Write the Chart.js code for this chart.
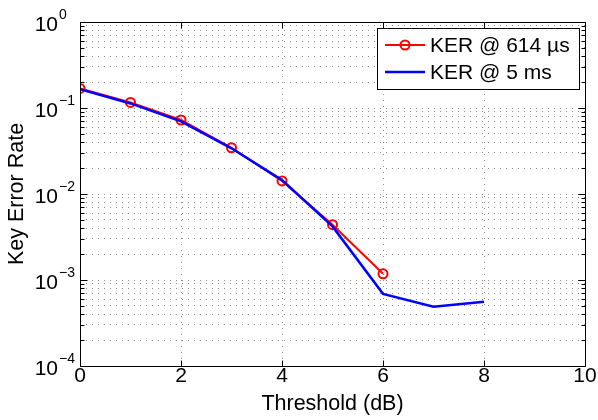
<!DOCTYPE html>
<html>
<head>
<meta charset="utf-8">
<script src="https://cdn.jsdelivr.net/npm/chart.js@4/dist/chart.umd.min.js"></script>
<style>
  body { margin: 0; background: #fff; }
</style>
</head>
<body>
<canvas id="myChart" width="598" height="420"></canvas>
<script>
// values
const thresholds = [0, 1, 2, 3, 4, 5, 6, 7, 8];
const ker614us = [0.169, 0.116, 0.0725, 0.0345, 0.0142, 0.0044, 0.00118];
const ker5ms = [0.165, 0.113, 0.070, 0.034, 0.0145, 0.0042, 0.00069, 0.00049, 0.00056];
const xTicks = [0, 2, 4, 6, 8, 10];
const yDecades = [1e-4, 1e-3, 1e-2, 1e-1, 1];
const yExponents = ['−4', '−3', '−2', '−1', '0'];
const seriesLabels = ['KER @ 614 µs', 'KER @ 5 ms'];

const FONT = "'Liberation Sans', Arial, Helvetica, sans-serif";
Chart.defaults.font.family = FONT;
Chart.defaults.color = '#000';

// all grid positions of the log axis (1..9 in each decade)
const yGrid = [];
yDecades.forEach((d, i) => {
  if (i === yDecades.length - 1) { yGrid.push(d); return; }
  for (let k = 1; k < 10; k++) yGrid.push(d * k);
});

const toPoints = (ys) => ys.map((y, i) => ({ x: thresholds[i], y: y }));

const matlabBox = {
  id: 'matlabBox',
  afterDraw(chart) {
    const ctx = chart.ctx;
    const a = chart.chartArea;
    const xs = chart.scales.x, ys = chart.scales.y;
    ctx.save();
    ctx.strokeStyle = '#000';
    ctx.lineWidth = 1;
    const L = Math.round(a.left) + 0.5, R = Math.round(a.right) + 0.5;
    const T = Math.round(a.top) + 0.5, B = Math.round(a.bottom) + 0.5;

    // inside ticks
    ctx.beginPath();
    xTicks.forEach(v => {
      const px = Math.round(xs.getPixelForValue(v)) + 0.5;
      ctx.moveTo(px, B); ctx.lineTo(px, B - 6);
      ctx.moveTo(px, T); ctx.lineTo(px, T + 6);
    });
    yGrid.forEach(v => {
      const py = Math.round(ys.getPixelForValue(v)) + 0.5;
      const len = yDecades.includes(v) ? 7 : 4;
      ctx.moveTo(L, py); ctx.lineTo(L + len, py);
      ctx.moveTo(R, py); ctx.lineTo(R - len, py);
    });
    ctx.stroke();
    ctx.strokeRect(L, T, R - L, B - T);

    // y tick labels: 10 with superscript exponent
    ctx.fillStyle = '#000';
    yDecades.forEach((d, i) => {
      const py = ys.getPixelForValue(d);
      ctx.font = '21px ' + FONT;
      ctx.textAlign = 'right';
      ctx.textBaseline = 'middle';
      ctx.fillText('10', 58, py + 3);
      ctx.font = '14px ' + FONT;
      ctx.textAlign = 'left';
      ctx.fillText(yExponents[i], 59, py - 7);
    });

    // legend box
    const lx = 377, ly = 28, lw = 202, lh = 61;
    ctx.fillStyle = '#fff';
    ctx.fillRect(lx, ly, lw, lh);
    ctx.strokeRect(lx + 0.5, ly + 0.5, lw, lh);
    const rows = [45, 72];
    chart.data.datasets.forEach((ds, i) => {
      const y = rows[i];
      ctx.strokeStyle = ds.borderColor;
      ctx.lineWidth = ds.borderWidth;
      ctx.beginPath();
      ctx.moveTo(385, y); ctx.lineTo(425, y);
      ctx.stroke();
      if (ds.pointRadius > 0) {
        ctx.lineWidth = ds.pointBorderWidth;
        ctx.beginPath();
        ctx.arc(405, y, ds.pointRadius, 0, Math.PI * 2);
        ctx.stroke();
      }
      ctx.fillStyle = '#000';
      ctx.font = '21px ' + FONT;
      ctx.textAlign = 'left';
      ctx.textBaseline = 'middle';
      ctx.fillText(ds.label, 430, y + 1);
    });
    ctx.restore();
  }
};

new Chart(document.getElementById('myChart'), {
  type: 'line',
  data: {
    datasets: [{
      label: seriesLabels[0],
      data: toPoints(ker614us),
      borderColor: '#ff0000',
      borderWidth: 2,
      pointRadius: 4.5,
      pointBorderWidth: 2,
      pointBorderColor: '#ff0000',
      pointBackgroundColor: 'rgba(0,0,0,0)',
      order: 1
    }, {
      label: seriesLabels[1],
      data: toPoints(ker5ms),
      borderColor: '#0000ff',
      borderWidth: 2.5,
      pointRadius: 0,
      order: 0
    }]
  },
  options: {
    responsive: false,
    animation: false,
    layout: { padding: { top: 22, right: 13, left: 0, bottom: 0 } },
    plugins: { legend: { display: false }, tooltip: { enabled: false } },
    scales: {
      x: {
        type: 'linear',
        min: 0,
        max: 10,
        afterBuildTicks: s => { s.ticks = xTicks.map(v => ({ value: v })); },
        afterFit: s => { s.height = 54; },
        ticks: { autoSkip: false, maxRotation: 0, padding: 0, font: { size: 21, lineHeight: 1 } },
        grid: { color: 'rgba(0,0,0,0.45)', drawTicks: false },
        border: { display: false, dash: [1, 5] },
        title: { display: true, text: 'Threshold (dB)', font: { size: 21.5 }, padding: { top: 0, bottom: 3 } }
      },
      y: {
        type: 'logarithmic',
        min: 1e-4,
        max: 1,
        afterBuildTicks: s => { s.ticks = yGrid.map(v => ({ value: v })); },
        afterFit: s => { s.width = 80; },
        ticks: { display: false },
        grid: { color: 'rgba(0,0,0,0.45)', drawTicks: false },
        border: { display: false, dash: [1, 5] },
        title: { display: true, text: 'Key Error Rate', font: { size: 21.5 }, padding: { top: 4, bottom: 0 } }
      }
    }
  },
  plugins: [matlabBox]
});
</script>
</body>
</html>
